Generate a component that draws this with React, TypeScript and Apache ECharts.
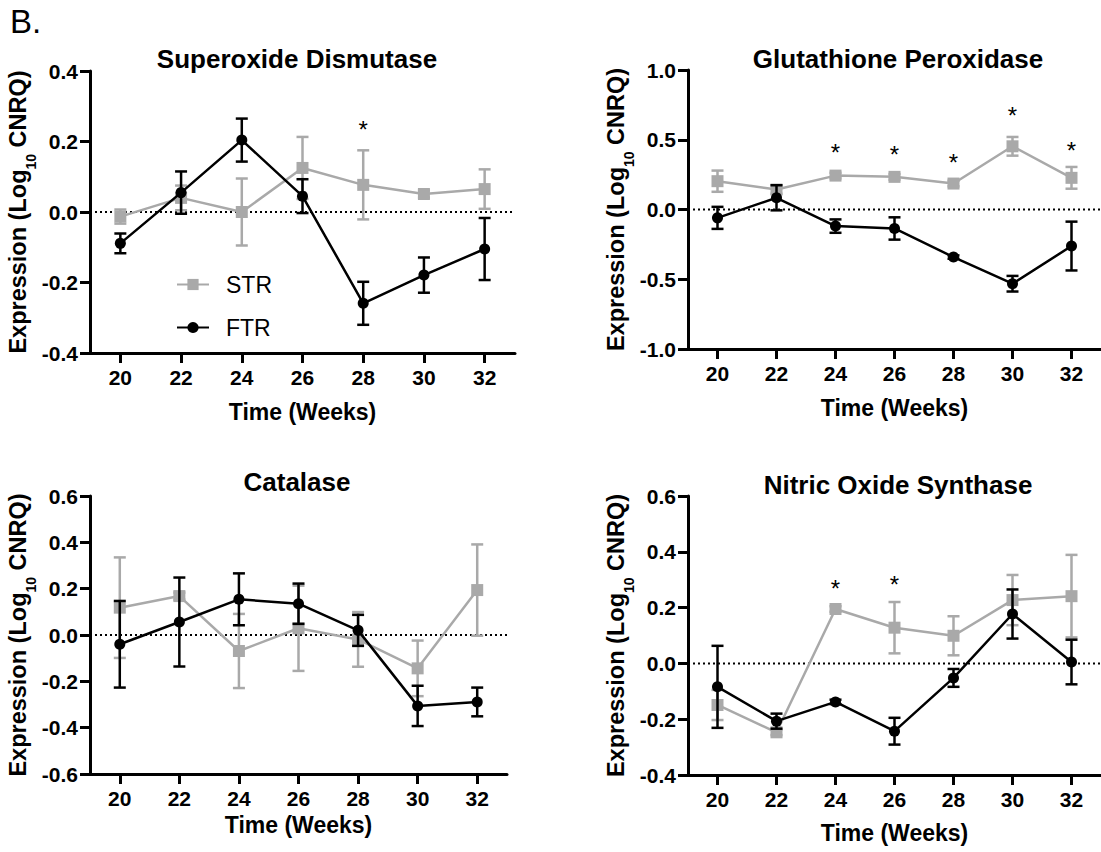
import React, { useEffect, useRef } from 'react';
import * as echarts from 'echarts';

const FONT = "'Liberation Sans', Arial, Helvetica, sans-serif";
const GRAY = '#a9a9a9';
const BLACK = '#000000';

// Shared x values (weeks)
const weeks = [20, 22, 24, 26, 28, 30, 32];
const xTicks = [20, 22, 24, 26, 28, 30, 32];
const zeroLine = [[19, 0], [33, 0]];

// Panel titles
const titles = ['Superoxide Dismutase', 'Glutathione Peroxidase', 'Catalase', 'Nitric Oxide Synthase'];

// Superoxide Dismutase
const sodStr = [-0.013, 0.04, 0.0, 0.125, 0.077, 0.051, 0.065];
const sodStrSem = [0.02, 0.035, 0.095, 0.088, 0.098, 0.01, 0.056];
const sodFtr = [-0.089, 0.055, 0.204, 0.045, -0.259, -0.179, -0.105];
const sodFtrSem = [0.028, 0.06, 0.061, 0.048, 0.061, 0.05, 0.088];
const sodStars = [[28, 0.247]];

// Glutathione Peroxidase
const gpxStr = [0.203, 0.143, 0.243, 0.234, 0.186, 0.453, 0.227];
const gpxStrSem = [0.076, 0.03, 0.02, 0.02, 0.02, 0.067, 0.078];
const gpxFtr = [-0.06, 0.084, -0.119, -0.136, -0.341, -0.532, -0.262];
const gpxFtrSem = [0.079, 0.09, 0.048, 0.08, 0.012, 0.056, 0.175];
const gpxStars = [[24, 0.442], [26, 0.43], [28, 0.37], [30, 0.711], [32, 0.458]];

// Catalase
const catStr = [0.118, 0.168, -0.069, 0.029, -0.019, -0.144, 0.194];
const catStrSem = [0.217, 0.015, 0.16, 0.184, 0.118, 0.12, 0.197];
const catFtr = [-0.04, 0.056, 0.154, 0.135, 0.02, -0.306, -0.289];
const catFtrSem = [0.187, 0.192, 0.112, 0.087, 0.067, 0.087, 0.062];
const catStars: number[][] = [];

// Nitric Oxide Synthase
const nosStr = [-0.149, -0.247, 0.195, 0.128, 0.099, 0.227, 0.241];
const nosStrSem = [0.054, 0.01, 0.01, 0.092, 0.07, 0.09, 0.148];
const nosFtr = [-0.084, -0.207, -0.138, -0.243, -0.052, 0.177, 0.005];
const nosFtrSem = [0.147, 0.027, 0.008, 0.048, 0.032, 0.088, 0.08];
const nosStars = [[24, 0.287], [26, 0.302]];

// Y axis ranges
const yMins = [-0.4, -1.0, -0.6, -0.4];
const yMaxs = [0.4, 1.0, 0.6, 0.6];
const yIntervals = [0.2, 0.5, 0.2, 0.2];

const panels = [
  { str: sodStr, strSem: sodStrSem, ftr: sodFtr, ftrSem: sodFtrSem, stars: sodStars },
  { str: gpxStr, strSem: gpxStrSem, ftr: gpxFtr, ftrSem: gpxFtrSem, stars: gpxStars },
  { str: catStr, strSem: catStrSem, ftr: catFtr, ftrSem: catFtrSem, stars: catStars },
  { str: nosStr, strSem: nosStrSem, ftr: nosFtr, ftrSem: nosFtrSem, stars: nosStars },
];

// Layout
const grids = [
  { left: 90, top: 71, width: 425, height: 282 },
  { left: 688, top: 70, width: 419, height: 279 },
  { left: 90, top: 496, width: 417, height: 278 },
  { left: 688, top: 496, width: 419, height: 279 },
];
const titlePos = [
  { x: 297, top: 46 },
  { x: 898, top: 46 },
  { x: 297, top: 469 },
  { x: 898, top: 472 },
];
const xNameGaps = [47, 47, 39, 46];
const yNameGaps = [46, 43, 43, 43];

function errSeries(name: string, idx: number, means: number[], sems: number[], color: string, z: number) {
  return {
    type: 'custom',
    name,
    xAxisIndex: idx,
    yAxisIndex: idx,
    z,
    silent: true,
    data: weeks.map((w, i) => [w, means[i] - sems[i], means[i] + sems[i]]),
    encode: { x: 0, y: [1, 2] },
    renderItem: (params: any, api: any) => {
      const x = api.value(0);
      const lo = api.coord([x, api.value(1)]);
      const hi = api.coord([x, api.value(2)]);
      const hw = 6;
      const style = { stroke: color, lineWidth: 2.5, fill: 'none' };
      return {
        type: 'group',
        children: [
          { type: 'line', shape: { x1: lo[0], y1: lo[1], x2: hi[0], y2: hi[1] }, style },
          { type: 'line', shape: { x1: lo[0] - hw, y1: lo[1], x2: lo[0] + hw, y2: lo[1] }, style },
          { type: 'line', shape: { x1: hi[0] - hw, y1: hi[1], x2: hi[0] + hw, y2: hi[1] }, style },
        ],
      };
    },
  };
}

function starSeries(idx: number, stars: number[][]) {
  return {
    type: 'custom',
    name: 'sig' + idx,
    xAxisIndex: idx,
    yAxisIndex: idx,
    z: 8,
    silent: true,
    data: stars,
    renderItem: (params: any, api: any) => {
      const p = api.coord([api.value(0), api.value(1)]);
      return {
        type: 'text',
        x: p[0],
        y: p[1] + 5,
        style: {
          text: '*',
          fontSize: 24,
          fontFamily: FONT,
          fill: '#000',
          align: 'center',
          verticalAlign: 'middle',
          textAlign: 'center',
          textVerticalAlign: 'middle',
        },
      };
    },
  };
}

function buildOption() {
  const series: any[] = [];
  panels.forEach((p, idx) => {
    series.push({
      type: 'line',
      name: 'zero' + idx,
      xAxisIndex: idx,
      yAxisIndex: idx,
      data: zeroLine,
      symbol: 'none',
      silent: true,
      z: 1,
      lineStyle: { color: '#000', width: 2, type: [2, 3] },
    });
    series.push(errSeries('STR err' + idx, idx, p.str, p.strSem, GRAY, 2));
    series.push({
      type: 'line',
      name: 'STR',
      xAxisIndex: idx,
      yAxisIndex: idx,
      data: weeks.map((w, i) => [w, p.str[i]]),
      symbol: 'rect',
      symbolSize: 12,
      z: 3,
      silent: true,
      lineStyle: { color: GRAY, width: 2.5 },
      itemStyle: { color: GRAY },
    });
    series.push(errSeries('FTR err' + idx, idx, p.ftr, p.ftrSem, BLACK, 4));
    series.push({
      type: 'line',
      name: 'FTR',
      xAxisIndex: idx,
      yAxisIndex: idx,
      data: weeks.map((w, i) => [w, p.ftr[i]]),
      symbol: 'circle',
      symbolSize: 11,
      z: 5,
      silent: true,
      lineStyle: { color: BLACK, width: 2.5 },
      itemStyle: { color: BLACK },
    });
    if (p.stars.length) series.push(starSeries(idx, p.stars));
  });

  const axisText = { color: '#000', fontSize: 21, fontWeight: 'bold', fontFamily: FONT };

  return {
    animation: false,
    backgroundColor: '#ffffff',
    title: titles.map((t, i) => ({
      text: t,
      left: titlePos[i].x,
      top: titlePos[i].top,
      textAlign: 'center',
      padding: 0,
      textStyle: { color: '#000', fontSize: 26, fontWeight: 'bold', fontFamily: FONT },
    })),
    graphic: [
      {
        type: 'text',
        left: 10,
        top: 5,
        style: { text: 'B.', fontSize: 33, fontFamily: FONT, fill: '#000' },
      },
    ],
    legend: {
      data: ['STR', 'FTR'],
      orient: 'vertical',
      left: 171,
      top: 268,
      itemWidth: 32,
      itemHeight: 14,
      itemGap: 20,
      selectedMode: false,
      textStyle: { color: '#000', fontSize: 23, fontFamily: FONT, padding: [0, 0, 0, 12] },
    },
    grid: grids.map((g) => ({ ...g, containLabel: false })),
    xAxis: grids.map((g, i) => ({
      type: 'value',
      gridIndex: i,
      min: 19,
      max: 33,
      position: 'bottom',
      name: 'Time (Weeks)',
      nameLocation: 'middle',
      nameGap: xNameGaps[i],
      nameTextStyle: { color: '#000', fontSize: 23, fontWeight: 'bold', fontFamily: FONT },
      axisLine: { show: true, onZero: false, lineStyle: { color: '#000', width: 3 } },
      axisTick: { show: true, length: 10, lineStyle: { color: '#000', width: 3 }, customValues: xTicks },
      axisLabel: { ...axisText, margin: 14, customValues: xTicks },
      splitLine: { show: false },
    })),
    yAxis: grids.map((g, i) => ({
      type: 'value',
      gridIndex: i,
      min: yMins[i],
      max: yMaxs[i],
      interval: yIntervals[i],
      name: '{b|Expression (Log}{s|10}{b| CNRQ)}',
      nameLocation: 'middle',
      nameGap: yNameGaps[i],
      nameTextStyle: {
        rich: {
          b: { fontSize: 23.5, fontWeight: 'bold', color: '#000', fontFamily: FONT, lineHeight: 40 },
          s: {
            fontSize: 14,
            fontWeight: 'bold',
            color: '#000',
            fontFamily: FONT,
            verticalAlign: 'top',
            padding: [26, 0, 0, 0],
          },
        },
      },
      axisLine: { show: true, onZero: false, lineStyle: { color: '#000', width: 3 } },
      axisTick: { show: true, length: 10, lineStyle: { color: '#000', width: 3 } },
      axisLabel: {
        ...axisText,
        margin: 12,
        formatter: (v: number) => (Math.abs(v) < 1e-9 ? 0 : v).toFixed(1),
      },
      splitLine: { show: false },
    })),
    series,
  };
}

export default function App() {
  const ref = useRef<HTMLDivElement>(null);
  useEffect(() => {
    if (!ref.current) return;
    const chart = echarts.init(ref.current, null, { renderer: 'svg' });
    chart.setOption(buildOption() as any);
    return () => chart.dispose();
  }, []);
  return (
    <div
      ref={ref}
      style={{ position: 'absolute', left: 0, top: 0, width: 1101, height: 852, background: '#fff' }}
    />
  );
}
